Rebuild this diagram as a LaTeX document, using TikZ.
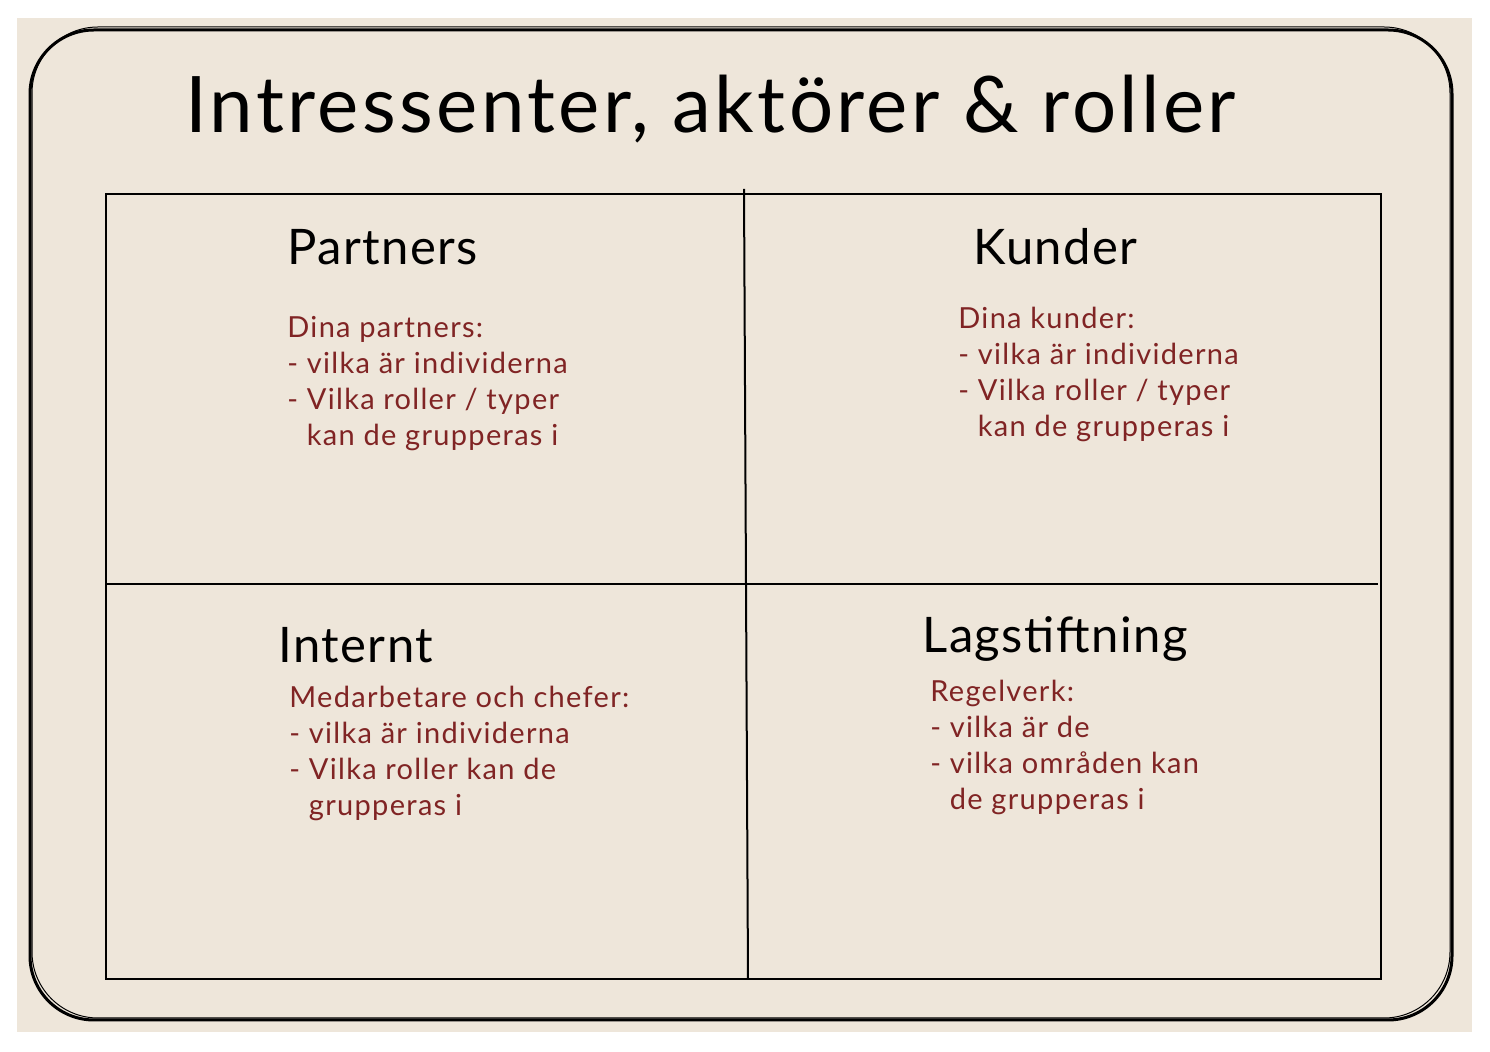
\documentclass[tikz,border=0pt]{standalone}
\usepackage{fontspec}
\setmainfont{Lato}
\usetikzlibrary{positioning}
\definecolor{paper}{RGB}{238,230,218}
\definecolor{ink}{RGB}{128,36,36}

\begin{document}
\begin{tikzpicture}[x=0.5pt, y=-0.5pt,
		heading/.style={anchor=base west, inner sep=0pt, font=\fontsize{24.5}{28}\selectfont\addfontfeature{LetterSpace=3}},
		note/.style={anchor=north west, inner sep=0pt, align=left, text=ink, font=\fontsize{14.5}{18}\selectfont\addfontfeature{LetterSpace=4.5}}]
		% page and paper
		\fill[white] (0,0) rectangle (1490,1052);
		\useasboundingbox (0,0) rectangle (1490,1052);
		\fill[paper] (17,18) rectangle (1472,1032);
		% outer sketch frame
		\draw[line width=1.5pt, rounded corners=32pt] (30,30) rectangle (1452,1020);
		\draw[line width=0.5pt, rounded corners=33pt] (32,27) rectangle (1450,1018);
		% grid
		\coordinate (tl) at (106,194);
		\coordinate (br) at (1381,979);
		\coordinate (mt) at (744,189);
		\coordinate (mb) at (748,979);
		\coordinate (ml) at (106,584);
		\coordinate (mr) at (1378,584);
		\draw[line width=1pt] (tl) rectangle (br);
		\draw[line width=1pt] (mt) -- (mb);
		\draw[line width=1pt] (ml) -- (mr);
		% texts
		\node[anchor=base west, inner sep=0pt, font=\fontsize{39}{44}\selectfont\addfontfeature{LetterSpace=4.3}] (title) at (185,133) {Intressenter, aktörer \& roller};
		\node[heading] (partners) at (287,265) {Partners};
		\node[heading] (kunder) at (973,265) {Kunder};
		\node[heading] (internt) at (278,663) {Internt};
		\node[heading] (lag) at (922,653) {Lagstiftning};
		\node[note] (partnersnote) at (287,316) {Dina partners:\\- vilka är individerna\\- Vilka roller / typer\\\hphantom{- }kan de grupperas i};
		\node[note] (kundernote) at (958,307) {Dina kunder:\\- vilka är individerna\\- Vilka roller / typer\\\hphantom{- }kan de grupperas i};
		\node[note] (interntnote) at (289,686) {Medarbetare och chefer:\\- vilka är individerna\\- Vilka roller kan de\\\hphantom{- }grupperas i};
		\node[note] (lagnote) at (930,680) {Regelverk:\\- vilka är de\\- vilka områden kan\\\hphantom{- }de grupperas i};
	\end{tikzpicture}
\end{document}
